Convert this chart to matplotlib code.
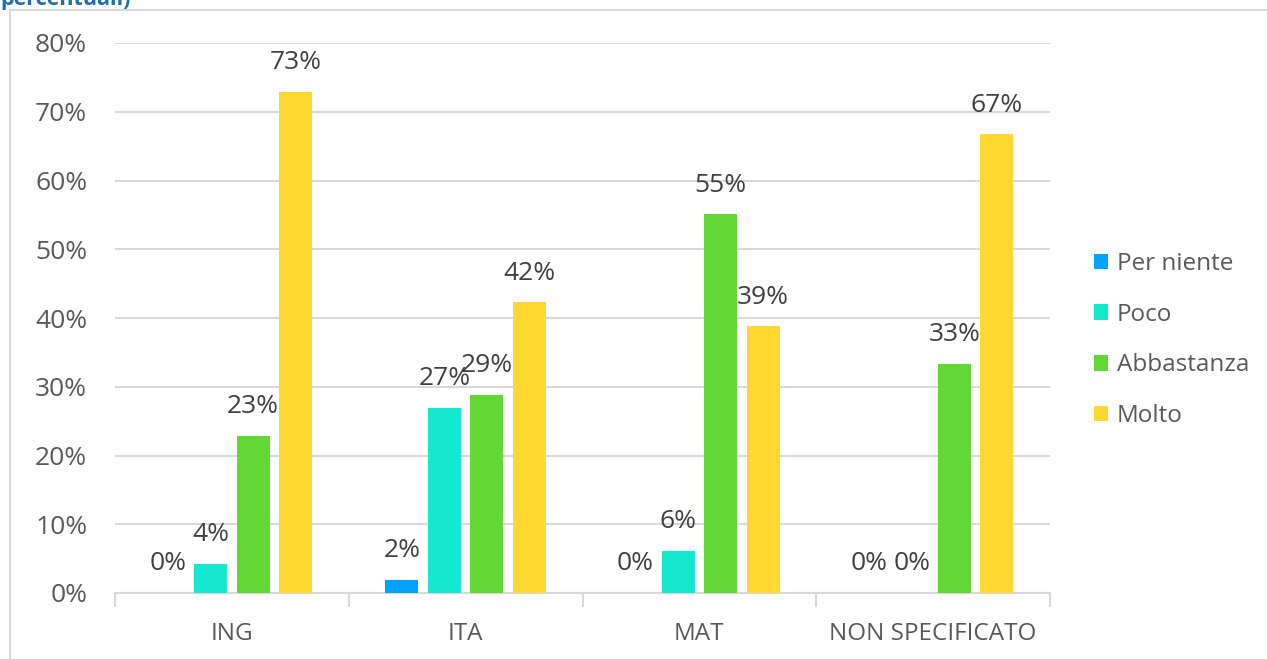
import numpy as np
import matplotlib.pyplot as plt
from matplotlib.patches import Rectangle

categorie = ["ING", "ITA", "MAT", "NON SPECIFICATO"]
serie = ["Per niente", "Poco", "Abbastanza", "Molto"]
colori = ["#00A2FF", "#16E7CF", "#61D836", "#FFD932"]

per_niente = [0, 1.9, 0, 0]
poco = [4.2, 26.9, 6.1, 0]
abbastanza = [22.9, 28.8, 55.1, 33.3]
molto = [72.9, 42.3, 38.8, 66.7]
valori = [per_niente, poco, abbastanza, molto]

yticks = [0, 10, 20, 30, 40, 50, 60, 70, 80]

plt.rcParams['font.family'] = ['Open Sans', 'DejaVu Sans']
GRIGIO = "#595959"
TESTO = "#404040"

fig = plt.figure(figsize=(12.67, 6.59), dpi=100)

# cornice grigia del riquadro
fig.patches.append(Rectangle((10/1267, -0.1), 1.2, 1 - 10/659 + 0.1, transform=fig.transFigure,
	fill=False, edgecolor="#d9d9d9", linewidth=1.5))
fig.text(0.0, 1 - 5/659, "percentuali)", color="#1F6FA8", fontsize=15.5, fontweight="bold",
	ha="left", va="baseline")

ax = fig.add_axes([115/1267, 1 - 593/659, (1050 - 115)/1267, (593 - 43)/659])

x = np.arange(len(categorie))
passo = 0.182
larghezza = 0.141
for i, (nome, vals, col) in enumerate(zip(serie, valori, colori)):
	pos = x + (i - 1.5) * passo
	ax.bar(pos, vals, width=larghezza, color=col, label=nome, zorder=3)
	for p, v in zip(pos, vals):
		ax.annotate(f"{round(v):d}%", (p, v), xytext=(0, 12), textcoords="offset points",
			ha="center", va="bottom", fontsize=19, color=TESTO)

ax.set_ylim(0, 80)
ax.set_xlim(-0.5, len(categorie) - 0.5)
ax.set_yticks(yticks)
ax.set_yticklabels([f"{t}%" for t in yticks], fontsize=19, color=GRIGIO)
ax.yaxis.grid(True, color="#d9d9d9", linewidth=1.5, zorder=0)
ax.tick_params(axis="y", length=0, pad=20)

ax.set_xticks(x)
ax.set_xticklabels(categorie, fontsize=17.5, color=GRIGIO, fontweight="medium")
ax.set_xticks(np.arange(-0.5, len(categorie)), minor=True)
ax.tick_params(axis="x", which="major", length=0, pad=21)
ax.tick_params(axis="x", which="minor", length=10, color="#d9d9d9", width=1.5)

for s in ["top", "right", "left"]:
	ax.spines[s].set_visible(False)
ax.spines["bottom"].set_color("#d9d9d9")
ax.spines["bottom"].set_linewidth(1.5)

leg = fig.legend(loc="center left", bbox_to_anchor=(1072/1267, 1 - 340/659), frameon=False,
	fontsize=17.5, labelspacing=1.1, handlelength=0.6, handleheight=0.6, handletextpad=0.35)
for t in leg.get_texts():
	t.set_color(GRIGIO)
	t.set_fontweight("medium")

fig.savefig("out.png", dpi=100)
